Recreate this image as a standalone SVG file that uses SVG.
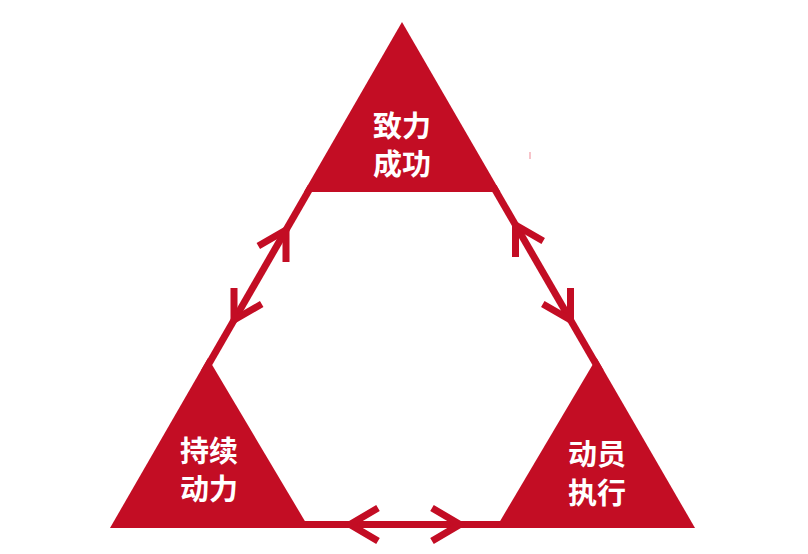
<svg xmlns="http://www.w3.org/2000/svg" width="808" height="554" viewBox="0 0 808 554">
<style>
.fill{fill:#c30d24}
.arr{fill:none;stroke:#c30d24;stroke-width:7;stroke-linejoin:miter;stroke-linecap:butt}
.lbl{font-family:"Noto Sans CJK SC","Noto Sans",sans-serif;font-size:29px;font-weight:bold;fill:#ffffff;text-anchor:middle}
</style>
<rect width="808" height="554" fill="#ffffff"/>
<g id="connectors">
<polygon class="fill" points="307.9,185 201.2,370 207.3,373.5 314,188.5"/>
<polygon class="fill" points="496.4,185 603.5,370 597.4,373.5 490.3,188.5"/>
<rect class="fill" x="295" y="521" width="215" height="7"/>
<polyline class="arr" points="258.3,246 286,230 286,262"/>
<polyline class="arr" points="234,288 234,320 261.7,304"/>
<polyline class="arr" points="515.5,257 515.5,225 543.2,241"/>
<polyline class="arr" points="542.8,304 570.5,320 570.5,288"/>
<polyline class="arr" points="378,508 350,524.5 378,541"/>
<polyline class="arr" points="432,508 460,524.5 432,541"/>
</g>
<g id="node-top">
<polygon class="fill" points="402,22 303.9,192 500.4,192"/>
<text class="lbl" x="402" y="137">致力</text>
<text class="lbl" x="402" y="175">成功</text>
</g>
<g id="node-left">
<polygon class="fill" points="208,358 110,528 309,528"/>
<text class="lbl" x="209" y="462">持续</text>
<text class="lbl" x="209" y="500">动力</text>
</g>
<g id="node-right">
<polygon class="fill" points="596.6,358 496,528 695,528"/>
<text class="lbl" x="597" y="465">动员</text>
<text class="lbl" x="597" y="504">执行</text>
</g>
<rect x="529.5" y="152" width="1" height="7" fill="#f08a96"/>
</svg>
